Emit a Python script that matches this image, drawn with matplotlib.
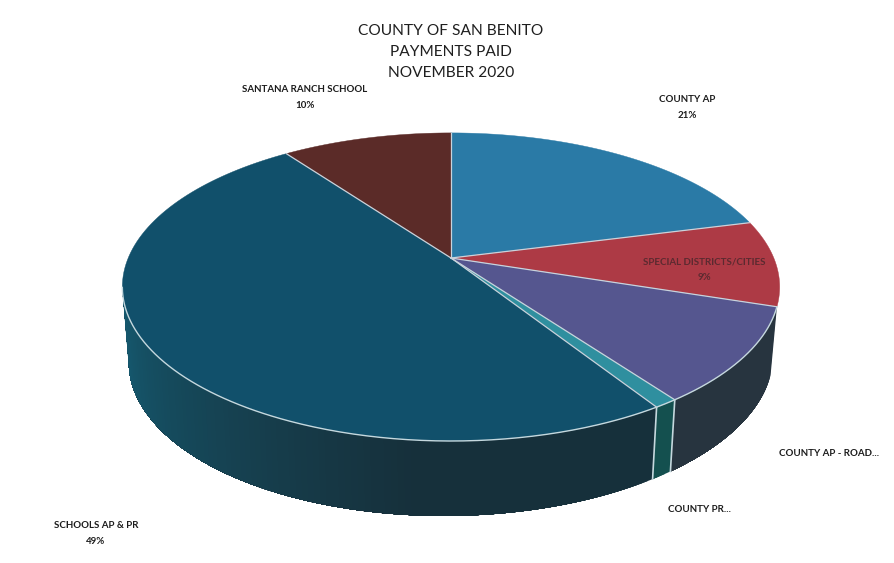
import numpy as np
import matplotlib
matplotlib.use("Agg")
import matplotlib.pyplot as plt
from matplotlib.patches import Polygon

plt.rcParams['font.family'] = ['Lato', 'DejaVu Sans']

# slices go clockwise from 12 o'clock
names = ["COUNTY AP", "SPECIAL DISTRICTS/CITIES", "COUNTY AP - ROAD...", "COUNTY PR...",
         "SCHOOLS AP & PR", "SANTANA RANCH SCHOOL"]
shares = [21, 9, 10, 1, 49, 10]
pct_labels = ["21%", "9%", "", "", "49%", "10%"]

top_colors = ["#2a7aa6", "#ad3a45", "#55568f", "#2f8f9f", "#11506b", "#5b2b28"]
side_colors = ["#1d5068", "#6d2a30", "#27343f", "#14504f", "#14323e", "#3a1c1a"]

label_pos = [(687, 99), (704, 262), (829, 454), (699, 510), (96, 525), (305, 89)]
label_colors = ["#1c1c1c", "#5c2a30", "#1c1c1c", "#1c1c1c", "#1c1c1c", "#1c1c1c"]

# perspective disc, values in image pixels
CX, CY = 451, 258
K = -0.188
WALL_START, WALL_END = 108, 259


def top_rim(theta):
    x, y = np.sin(theta), np.cos(theta)
    d = 1 - K * y
    return CX + 322.8 * x / d, CY - 148.6 * y / d


def low_rim(theta):
    x, y = np.sin(theta), np.cos(theta)
    d = 1 - K * y
    px = CX + 316.5 * x / d
    return px, CY + 71 - 151.8 * y / d - 0.011 * (px - CX)


def side_shade(theta, base):
    # schools side gets lighter toward the left edge
    if base == side_colors[4]:
        t = np.clip((np.degrees(theta) - 185) / 70, 0, 1)
        c0 = np.array(matplotlib.colors.to_rgb("#16303b"))
        c1 = np.array(matplotlib.colors.to_rgb("#15596f"))
        return tuple(c0 + (c1 - c0) * t)
    return base


fig = plt.figure(figsize=(8.94, 5.63), dpi=100)
ax = fig.add_axes([0, 0, 1, 1])
ax.set_xlim(0, 894)
ax.set_ylim(563, 0)
ax.axis('off')

edges = np.radians(np.cumsum([0] + shares) * 3.6)
rim_col = "#c5d8de"

# side wall first, bands run over each other so no stripes show
for i in range(len(shares)):
    a0 = max(edges[i], np.radians(WALL_START))
    a1 = min(edges[i + 1], np.radians(WALL_END))
    if a1 <= a0:
        continue
    steps = max(2, int(np.degrees(a1 - a0)) + 1)
    th = np.linspace(a0, a1, steps)
    for t0 in th[:-1]:
        tt = np.linspace(t0, a1, 60)
        tx, ty = top_rim(tt)
        lx, ly = low_rim(tt)
        pts = np.column_stack([np.r_[tx, lx[::-1]], np.r_[ty, ly[::-1]]])
        ax.add_patch(Polygon(pts, closed=True, fc=side_shade(t0, side_colors[i]), ec='none', zorder=2))

# seams on the wall
for e in edges[1:-1]:
    if np.radians(WALL_START) + 0.01 < e < np.radians(WALL_END):
        tx, ty = top_rim(e)
        lx, ly = low_rim(e)
        ax.plot([tx, lx], [ty, ly], color=rim_col, lw=1.2, zorder=3)

# top face
for i in range(len(shares)):
    th = np.linspace(edges[i], edges[i + 1], 120)
    rx, ry = top_rim(th)
    pts = np.column_stack([np.r_[CX, rx], np.r_[CY, ry]])
    ax.add_patch(Polygon(pts, closed=True, fc=top_colors[i], ec=top_colors[i], lw=0.3, zorder=4))

# slice borders and front rim
for e in edges[:-1]:
    rx, ry = top_rim(e)
    ax.plot([CX, rx], [CY, ry], color="#c9d3dc", lw=0.9, zorder=5)
th = np.linspace(np.radians(WALL_START), np.radians(WALL_END), 300)
rx, ry = top_rim(th)
ax.plot(rx, ry, color=rim_col, lw=1.0, zorder=5)

# title
for line, yy in zip(["COUNTY OF SAN BENITO", "PAYMENTS PAID", "NOVEMBER 2020"], [31, 52, 73]):
    ax.text(451, yy, line, ha='center', va='center', fontsize=11.2, color="#1f1f1f", zorder=6)

# data labels
for name, pct, (lx, ly), col in zip(names, pct_labels, label_pos, label_colors):
    ax.text(lx, ly, name, ha='center', va='center', fontsize=7, fontweight='bold', color=col, zorder=6)
    if pct:
        ax.text(lx, ly + 16, pct, ha='center', va='center', fontsize=7, fontweight='bold', color=col, zorder=6)

fig.savefig("out.png", dpi=100, facecolor='white')
